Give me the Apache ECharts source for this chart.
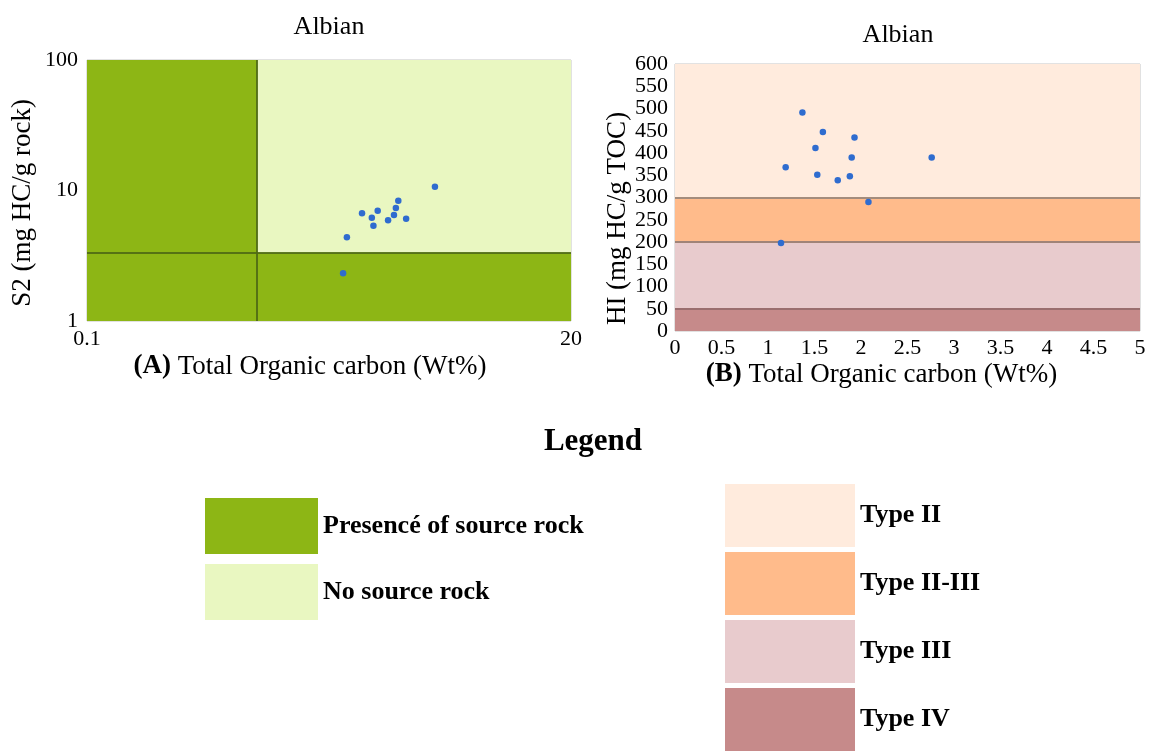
<!DOCTYPE html>
<html>
<head>
<meta charset="utf-8">
<script src="https://cdn.jsdelivr.net/npm/echarts@6/dist/echarts.min.js"></script>
<style>
html,body{margin:0;padding:0;background:#fff;}
#chart{width:1157px;height:756px;}
</style>
</head>
<body>
<div id="chart"></div>
<script>
// ---------- data ----------
const chartTitles = ['Albian', 'Albian'];
// Panel A: S2 vs TOC (log-log)
const tocA = [4.51, 3.02, 2.94, 2.88, 3.29, 2.70, 2.03, 2.41, 2.26, 2.30, 1.72, 1.65];
const s2A  = [10.7, 8.35, 7.34, 6.49, 6.08, 5.91, 6.69, 7.00, 6.19, 5.37, 4.38, 2.32];
const tocCutoffA = 0.643;   // vertical divider
const s2CutoffA = 3.32;     // horizontal divider
const xRangeA = [0.1, 20];
const yRangeA = [1, 100];
const xLabelsA = [0.1, 20];
const regionNamesA = ['Presencé of source rock', 'No source rock'];
// Panel B: HI vs TOC
const tocB = [1.37, 1.59, 1.93, 1.51, 1.90, 2.76, 1.19, 1.53, 1.75, 1.88, 2.08, 1.14];
const hiB  = [491, 447, 435, 411, 390, 390, 368, 351, 339, 348, 290, 198];
const bandNames = ['Type II', 'Type II-III', 'Type III', 'Type IV'];
const bandLower = [300, 200, 50, 0];
const bandUpper = [600, 300, 200, 50];
const xRangeB = [0, 5];
const yRangeB = [0, 600];

// ---------- styles ----------
const FONT = "'Liberation Serif', 'Times New Roman', serif";
const regionColorsA = ['#8db615', '#e9f7c1'];
const bandColors = ['#ffebdd', '#ffbb8b', '#e8cbcd', '#c68a8a'];
const bandLineColors = ['#a48c7c', '#a08478', '#9a6e6e'];
const pointColor = '#2f6ccf';

const near = (a, b) => Math.abs(a - b) < 1e-6 * Math.max(1, Math.abs(b));

const seriesA = [
  {
    name: regionNamesA[0], type: 'scatter', xAxisIndex: 0, yAxisIndex: 0, data: [],
    itemStyle: {color: regionColorsA[0], opacity: 1},
    markArea: {
      silent: true, itemStyle: {color: regionColorsA[0], opacity: 1},
      data: [
        [{coord: [xRangeA[0], yRangeA[0]]}, {coord: [tocCutoffA, yRangeA[1]]}],
        [{coord: [tocCutoffA, yRangeA[0]]}, {coord: [xRangeA[1], s2CutoffA]}]
      ]
    }
  },
  {
    name: regionNamesA[1], type: 'scatter', xAxisIndex: 0, yAxisIndex: 0, data: [],
    itemStyle: {color: regionColorsA[1], opacity: 1},
    markArea: {
      silent: true, itemStyle: {color: regionColorsA[1], opacity: 1},
      data: [[{coord: [tocCutoffA, s2CutoffA]}, {coord: [xRangeA[1], yRangeA[1]]}]]
    },
    markLine: {
      silent: true, symbol: 'none', label: {show: false},
      lineStyle: {color: '#4f6a14', width: 2, type: 'solid', opacity: 0.9},
      data: [{xAxis: tocCutoffA}, {yAxis: s2CutoffA}]
    }
  },
  {
    name: 'Albian A', type: 'scatter', xAxisIndex: 0, yAxisIndex: 0, z: 10,
    symbolSize: 6.5, itemStyle: {color: pointColor, opacity: 1},
    data: tocA.map((v, i) => [v, s2A[i]])
  }
];

const seriesB = bandNames.map((n, i) => ({
  name: n, type: 'scatter', xAxisIndex: 1, yAxisIndex: 1, data: [],
  itemStyle: {color: bandColors[i], opacity: 1},
  markArea: {
    silent: true, itemStyle: {color: bandColors[i], opacity: 1},
    data: [[{coord: [xRangeB[0], bandLower[i]]}, {coord: [xRangeB[1], bandUpper[i]]}]]
  }
}));
seriesB.push({
  name: 'band lines', type: 'scatter', xAxisIndex: 1, yAxisIndex: 1, data: [],
  markLine: {
    silent: true, symbol: 'none', label: {show: false},
    data: bandLower.slice(0, 3).map((v, i) => ({yAxis: v, lineStyle: {color: bandLineColors[i], width: 2, type: 'solid', opacity: 1}}))
  }
});
seriesB.push({
  name: 'Albian B', type: 'scatter', xAxisIndex: 1, yAxisIndex: 1, z: 10,
  symbolSize: 6.5, itemStyle: {color: pointColor, opacity: 1},
  data: tocB.map((v, i) => [v, hiB[i]])
});

const tickFont = {fontFamily: FONT, fontSize: 22, color: '#000'};
const nameFont = {fontFamily: FONT, fontSize: 27, color: '#000'};
const boldRich = {b: {fontFamily: FONT, fontSize: 27, fontWeight: 'bold', color: '#000'}};

const option = {
  backgroundColor: '#fff',
  animation: false,
  title: [
    {text: chartTitles[0], left: 329, top: 27, textAlign: 'center', textVerticalAlign: 'middle', padding: 0,
     textStyle: {fontFamily: FONT, fontSize: 26, fontWeight: 'normal', color: '#000'}},
    {text: chartTitles[1], left: 898, top: 35, textAlign: 'center', textVerticalAlign: 'middle', padding: 0,
     textStyle: {fontFamily: FONT, fontSize: 26, fontWeight: 'normal', color: '#000'}},
    {text: 'Legend', left: 593, top: 442, textAlign: 'center', textVerticalAlign: 'middle', padding: 0,
     textStyle: {fontFamily: FONT, fontSize: 31, fontWeight: 'bold', color: '#000'}}
  ],
  legend: [
    {
      data: regionNamesA, orient: 'vertical', left: 205, top: 498, padding: 0,
      itemWidth: 113, itemHeight: 56, itemGap: 10, icon: 'rect', selectedMode: false,
      textStyle: {fontFamily: FONT, fontSize: 26, fontWeight: 'bold', color: '#000'}
    },
    {
      data: bandNames, orient: 'vertical', left: 725, top: 484, padding: 0,
      itemWidth: 130, itemHeight: 63, itemGap: 5, icon: 'rect', selectedMode: false,
      textStyle: {fontFamily: FONT, fontSize: 26, fontWeight: 'bold', color: '#000'}
    }
  ],
  grid: [
    {left: 87, top: 60, width: 484, height: 261, show: true, borderColor: '#c4c4c4', borderWidth: 1,
     backgroundColor: 'transparent', containLabel: false, outerBoundsMode: 'none'},
    {left: 675, top: 64, width: 465, height: 267, show: true, borderColor: '#c4c4c4', borderWidth: 1,
     backgroundColor: 'transparent', containLabel: false, outerBoundsMode: 'none'}
  ],
  xAxis: [
    {
      type: 'log', logBase: 10, gridIndex: 0, min: xRangeA[0], max: xRangeA[1],
      axisLine: {show: false}, axisTick: {show: false}, splitLine: {show: false},
      axisLabel: Object.assign({margin: 7, showMinLabel: true, showMaxLabel: true,
        formatter: v => { for (const t of xLabelsA) { if (near(v, t)) return String(t); } return ''; }}, tickFont),
      name: '{b|(A)} Total Organic carbon (Wt%)', nameLocation: 'middle', nameGap: 32,
      nameTextStyle: Object.assign({padding: [0, 38, 0, 0], rich: boldRich}, nameFont)
    },
    {
      type: 'value', gridIndex: 1, min: xRangeB[0], max: xRangeB[1], interval: 0.5,
      axisLine: {show: false}, axisTick: {show: false}, splitLine: {show: false},
      axisLabel: Object.assign({margin: 6}, tickFont),
      name: '{b|(B)} Total Organic carbon (Wt%)', nameLocation: 'middle', nameGap: 30,
      nameTextStyle: Object.assign({padding: [0, 52, 0, 0], rich: boldRich}, nameFont)
    }
  ],
  yAxis: [
    {
      type: 'log', logBase: 10, gridIndex: 0, min: yRangeA[0], max: yRangeA[1],
      axisLine: {show: false}, axisTick: {show: false}, splitLine: {show: false},
      axisLabel: Object.assign({margin: 9}, tickFont),
      name: 'S2 (mg HC/g rock)', nameLocation: 'middle', nameGap: 51,
      nameTextStyle: Object.assign({padding: [0, 25, 0, 0]}, nameFont)
    },
    {
      type: 'value', gridIndex: 1, min: yRangeB[0], max: yRangeB[1], interval: 50,
      axisLine: {show: false}, axisTick: {show: false}, splitLine: {show: false},
      axisLabel: Object.assign({margin: 7}, tickFont),
      name: 'HI (mg HC/g TOC)', nameLocation: 'middle', nameGap: 42,
      nameTextStyle: Object.assign({padding: [0, 42, 0, 0]}, nameFont)
    }
  ],
  series: seriesA.concat(seriesB)
};

const chart = echarts.init(document.getElementById('chart'), null, {renderer: 'canvas'});
chart.setOption(option);
</script>
</body>
</html>
